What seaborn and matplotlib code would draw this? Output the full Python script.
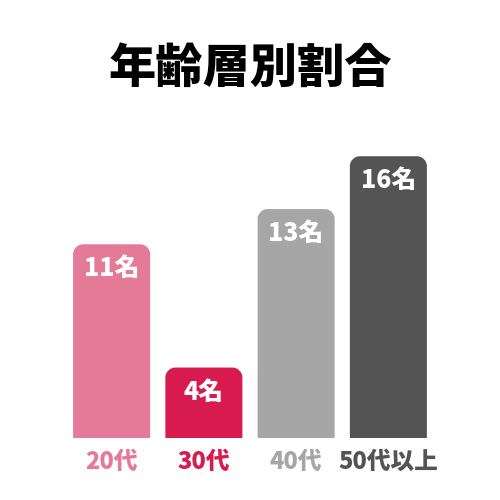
import matplotlib
matplotlib.use("Agg")
import matplotlib.pyplot as plt
import seaborn as sns
import pandas as pd
from matplotlib.path import Path
from matplotlib.patches import PathPatch

# データ
categories = ["20代", "30代", "40代", "50代以上"]
counts = [11, 4, 13, 16]
value_labels = ["11名", "4名", "13名", "16名"]
colors = ["#E57A98", "#D81B4F", "#A6A6A6", "#545454"]

df = pd.DataFrame({"年代": categories, "人数": counts})

sns.set_style("white")
plt.rcParams['font.family'] = ['Noto Sans CJK JP', 'DejaVu Sans']

fig = plt.figure(figsize=(5, 5), dpi=100)
ax = fig.add_axes([0.131, 0.124, 0.738, 0.634])

sns.barplot(data=df, x="年代", y="人数", hue="年代", palette=colors,
            saturation=1, width=0.835, legend=False, ax=ax)
ax.set_xlim(-0.5, 3.5)
ax.set_ylim(0, 18)

# 上の角を丸くする
fig.canvas.draw()
px_x = ax.bbox.width / 4.0
px_y = ax.bbox.height / 18.0
r_px = 10
for p in list(ax.patches):
    x0, y0 = p.get_x(), p.get_y()
    w, h = p.get_width(), p.get_height()
    fc = p.get_facecolor()
    rx, ry = r_px / px_x, r_px / px_y
    k = 0.5523
    x1, y1 = x0 + w, y0 + h
    verts = [
        (x0, y0), (x1, y0), (x1, y1 - ry),
        (x1, y1 - ry + k * ry), (x1 - rx + k * rx, y1), (x1 - rx, y1),
        (x0 + rx, y1),
        (x0 + rx - k * rx, y1), (x0, y1 - ry + k * ry), (x0, y1 - ry),
        (x0, y0),
    ]
    codes = [Path.MOVETO, Path.LINETO, Path.LINETO,
             Path.CURVE4, Path.CURVE4, Path.CURVE4,
             Path.LINETO,
             Path.CURVE4, Path.CURVE4, Path.CURVE4,
             Path.CLOSEPOLY]
    p.remove()
    ax.add_patch(PathPatch(Path(verts, codes), facecolor=fc, edgecolor="none"))

# 値ラベル
for i, (v, lab) in enumerate(zip(counts, value_labels)):
    ax.text(i, v - 24 / px_y, lab, ha="center", va="center",
            color="white", fontsize=18, fontweight="black")

ax.set_xlabel("")
ax.set_ylabel("")
ax.set_yticks([])
ax.tick_params(axis="x", length=0, pad=8)
ax.set_xticks(range(len(categories)))
ax.set_xticklabels(categories, fontsize=17, fontweight="black")
for t, c in zip(ax.get_xticklabels(), colors):
    t.set_color(c)
for s in ax.spines.values():
    s.set_visible(False)

fig.text(0.5, 0.862, "年齢層別割合", ha="center", va="center",
         fontsize=34, fontweight="black", color="black")

fig.savefig("out.png", dpi=100, facecolor="white")
